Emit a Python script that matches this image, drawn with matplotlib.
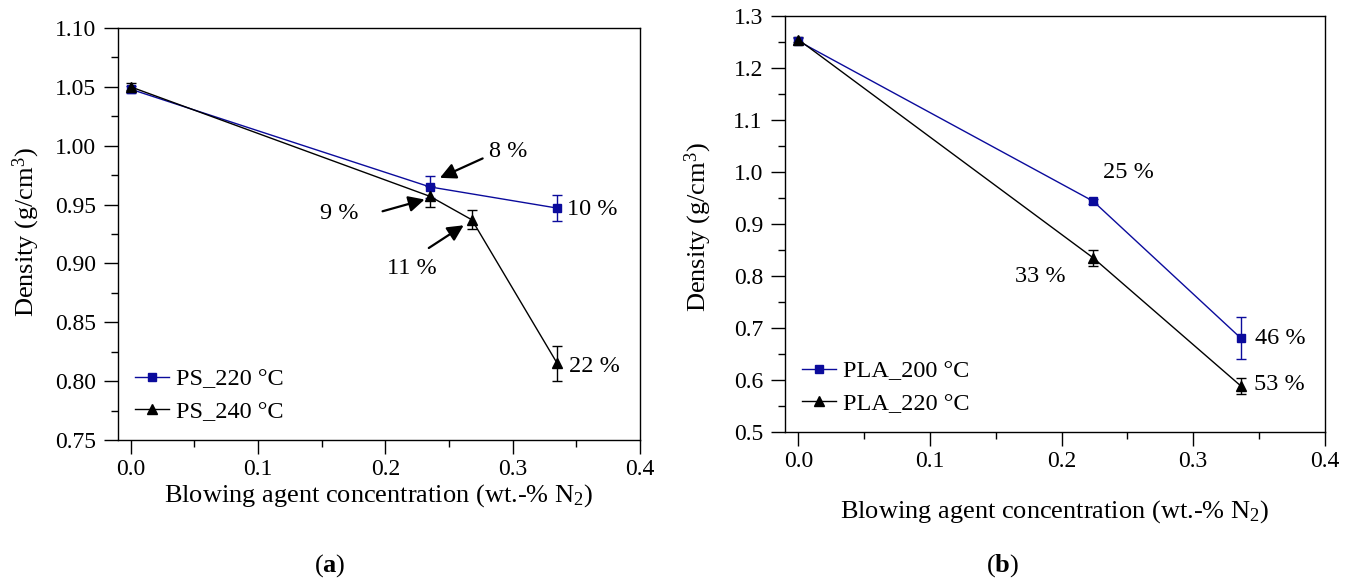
import matplotlib
matplotlib.use("Agg")
import matplotlib.pyplot as plt
from matplotlib.lines import Line2D
from matplotlib.ticker import MultipleLocator, FormatStrFormatter

plt.rcParams["font.family"] = ["Liberation Serif", "DejaVu Serif"]
plt.rcParams["mathtext.fontset"] = "custom"
plt.rcParams["mathtext.rm"] = "Liberation Serif"
plt.rcParams["mathtext.it"] = "Liberation Serif:italic"
plt.rcParams["mathtext.bf"] = "Liberation Serif:bold"

# ---- data: PS foams (panel a) ----
ps220_x = [0.0, 0.235, 0.335]
ps220_y = [1.048, 0.965, 0.947]
ps220_err = [0.003, 0.009, 0.011]
ps240_x = [0.0, 0.235, 0.268, 0.335]
ps240_y = [1.050, 0.957, 0.937, 0.815]
ps240_err = [0.003, 0.009, 0.008, 0.015]

# ---- data: PLA foams (panel b) ----
pla200_x = [0.0, 0.224, 0.336]
pla200_y = [1.252, 0.944, 0.681]
pla200_err = [0.005, 0.005, 0.040]
pla220_x = [0.0, 0.224, 0.336]
pla220_y = [1.255, 0.835, 0.589]
pla220_err = [0.005, 0.015, 0.015]

# density reduction labels
ps_labels = ["8 %", "9 %", "10 %", "11 %", "22 %"]
pla_labels = ["25 %", "33 %", "46 %", "53 %"]

BLUE = "#0b0b9c"
FS_TICK = 17
FS_NOTE = 17.5
FS_LAB = 19

fig = plt.figure(figsize=(13.56, 5.80), dpi=100)
ax_a = fig.add_axes([0.087, 0.2414, 0.385, 0.7103])
ax_b = fig.add_axes([0.579, 0.2552, 0.398, 0.717])


def style_axes(ax, ymin, ymax, ymaj, ymin_step, xlab_y, ylab_x, ylab_y):
    ax.set_xlim(-0.01, 0.4)
    ax.set_ylim(ymin, ymax)
    ax.xaxis.set_major_locator(MultipleLocator(0.1))
    ax.xaxis.set_minor_locator(MultipleLocator(0.05))
    ax.yaxis.set_major_locator(MultipleLocator(ymaj))
    ax.yaxis.set_minor_locator(MultipleLocator(ymin_step))
    ax.xaxis.set_major_formatter(FormatStrFormatter("%.1f"))
    ax.tick_params(which="both", direction="out", top=False, right=False,
                   labelsize=FS_TICK, width=1.0)
    ax.tick_params(which="major", length=10)
    ax.tick_params(which="minor", length=5)
    ax.tick_params(axis="x", which="major", pad=4)
    ax.tick_params(axis="y", which="major", pad=6)
    for s in ax.spines.values():
        s.set_linewidth(1.0)
    ax.set_xlabel(r"Blowing agent concentration (wt.-% N$_2$)", fontsize=FS_LAB)
    ax.set_ylabel(r"Density (g/cm$^3$)", fontsize=FS_LAB)
    ax.xaxis.set_label_coords(0.5, xlab_y)
    ax.xaxis.label.set_verticalalignment("center")
    ax.yaxis.set_label_coords(ylab_x, ylab_y)
    ax.yaxis.label.set_verticalalignment("center")


def series(ax, x, y, err, color, marker, ms):
    ax.errorbar(x, y, yerr=err, color=color, marker=marker, ms=ms,
                lw=1.0, elinewidth=1.0, capsize=3.5, capthick=1.0)


def legend(ax, labels, anchor):
    handles = [
        Line2D([], [], color=BLUE, marker="s", ms=5.5, lw=1.0),
        Line2D([], [], color="black", marker="^", ms=7, lw=1.0),
    ]
    ax.legend(handles, labels, loc="lower left", bbox_to_anchor=anchor,
              frameon=False, fontsize=FS_NOTE, handlelength=1.4,
              handletextpad=0.3, labelspacing=0.45, borderaxespad=0.3)


# ---- panel (a) ----
series(ax_a, ps220_x, ps220_y, ps220_err, BLUE, "s", 5.5)
series(ax_a, ps240_x, ps240_y, ps240_err, "black", "^", 7)
style_axes(ax_a, 0.75, 1.10, 0.05, 0.025, -0.134, -0.176, 0.505)
ax_a.yaxis.set_major_formatter(FormatStrFormatter("%.2f"))

arrow = dict(arrowstyle="-|>", color="black", lw=1.6, mutation_scale=24,
             shrinkA=0, shrinkB=0)
ax_a.annotate("", xy=(0.2428, 0.9727), xytext=(0.2764, 0.9892), arrowprops=arrow)
ax_a.annotate("", xy=(0.2308, 0.9543), xytext=(0.1978, 0.9443), arrowprops=arrow)
ax_a.annotate("", xy=(0.2615, 0.9324), xytext=(0.2341, 0.9131), arrowprops=arrow)
ax_a.text(0.281, 0.995, ps_labels[0], fontsize=FS_NOTE, ha="left", va="center")
ax_a.text(0.164, 0.942, ps_labels[1], fontsize=FS_NOTE, ha="center", va="center")
ax_a.text(0.343, 0.946, ps_labels[2], fontsize=FS_NOTE, ha="left", va="center")
ax_a.text(0.221, 0.896, ps_labels[3], fontsize=FS_NOTE, ha="center", va="center")
ax_a.text(0.344, 0.8125, ps_labels[4], fontsize=FS_NOTE, ha="left", va="center")

legend(ax_a, ["PS_220 °C", "PS_240 °C"], (0.0, 0.0))

# ---- panel (b) ----
series(ax_b, pla200_x, pla200_y, pla200_err, BLUE, "s", 5.5)
series(ax_b, pla220_x, pla220_y, pla220_err, "black", "^", 7)
style_axes(ax_b, 0.5, 1.3, 0.1, 0.05, -0.192, -0.161, 0.493)
ax_b.yaxis.set_major_formatter(FormatStrFormatter("%.1f"))

ax_b.text(0.251, 1.0, pla_labels[0], fontsize=FS_NOTE, ha="center", va="center")
ax_b.text(0.184, 0.80, pla_labels[1], fontsize=FS_NOTE, ha="center", va="center")
ax_b.text(0.347, 0.680, pla_labels[2], fontsize=FS_NOTE, ha="left", va="center")
ax_b.text(0.346, 0.591, pla_labels[3], fontsize=FS_NOTE, ha="left", va="center")

legend(ax_b, ["PLA_200 °C", "PLA_220 °C"], (0.0, 0.0))

# panel captions
fig.text(330 / 1356, 1 - 566 / 580, r"($\mathbf{a}$)", fontsize=FS_LAB,
         ha="center", va="center")
fig.text(1003 / 1356, 1 - 566 / 580, r"($\mathbf{b}$)", fontsize=FS_LAB,
         ha="center", va="center")

fig.savefig("out.png", dpi=100)
